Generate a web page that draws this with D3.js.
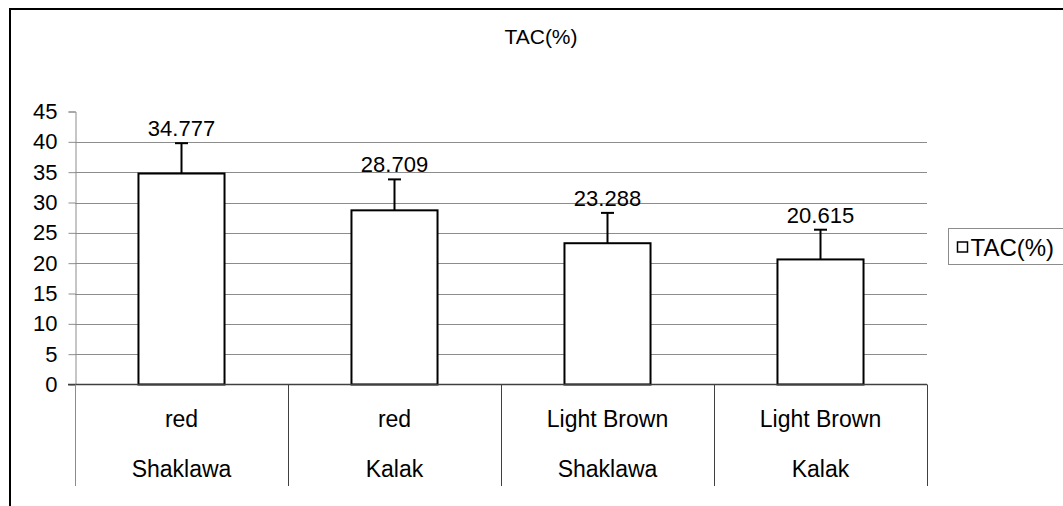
<!DOCTYPE html>
<html>
<head>
<meta charset="utf-8">
<script src="https://d3js.org/d3.v7.min.js"></script>
<style>
  body { margin: 0; background: #fff; }
  text { font-family: "Liberation Sans", Arial, sans-serif; fill: #000; }
</style>
</head>
<body>
<script>
// Data
var colours = ["red", "red", "Light Brown", "Light Brown"];
var places = ["Shaklawa", "Kalak", "Shaklawa", "Kalak"];
var tacValues = [34.777, 28.709, 23.288, 20.615];
var tacErrors = [5.0, 5.1, 5.0, 4.9];
var yTicks = [0, 5, 10, 15, 20, 25, 30, 35, 40, 45];
var chartTitle = "TAC(%)";
var legendLabel = "TAC(%)";

// Define SVG area dimensions
var svgWidth = 1063;
var svgHeight = 506;

// Plot area inside the chart
var plot = { left: 75, right: 927, top: 111.5, bottom: 384.5 };

var svg = d3.select("body")
  .append("svg")
  .attr("width", svgWidth)
  .attr("height", svgHeight);

// Outer chart border (runs off the right and bottom edge)
svg.append("rect")
  .attr("x", 10)
  .attr("y", 9)
  .attr("width", 1100)
  .attr("height", 600)
  .attr("fill", "#fff")
  .attr("stroke", "#000")
  .attr("stroke-width", 2);

// Scales
var xScale = d3.scaleBand()
  .domain(d3.range(tacValues.length))
  .range([plot.left, plot.right])
  .padding(0);

var yScale = d3.scaleLinear()
  .domain([0, 45])
  .range([plot.bottom, plot.top]);

var barWidth = xScale.bandwidth() * 0.404;

// Gridlines
svg.append("g")
  .selectAll("line")
  .data(yTicks.filter(function(d) { return d > 0 && d < 45; }))
  .enter()
  .append("line")
  .attr("x1", plot.left)
  .attr("x2", plot.right)
  .attr("y1", function(d) { return Math.round(yScale(d)) + 0.5; })
  .attr("y2", function(d) { return Math.round(yScale(d)) + 0.5; })
  .attr("stroke", "#8c8c8c")
  .attr("stroke-width", 1);

// Y axis
var yAxis = d3.axisLeft(yScale)
  .tickValues(yTicks)
  .tickSize(7)
  .tickPadding(11)
  .tickFormat(d3.format("d"));

var yAxisG = svg.append("g")
  .attr("transform", "translate(" + (plot.left + 0.5) + ",0)")
  .call(yAxis);

yAxisG.select(".domain").attr("stroke", "#8c8c8c");
yAxisG.selectAll(".tick line").attr("stroke", "#8c8c8c");
yAxisG.selectAll(".tick text")
  .style("font-size", "22px")
  .attr("font-family", null);

// Bars
svg.append("g")
  .selectAll("rect")
  .data(tacValues)
  .enter()
  .append("rect")
  .attr("x", function(d, i) { return xScale(i) + (xScale.bandwidth() - barWidth) / 2; })
  .attr("y", function(d) { return yScale(d); })
  .attr("width", barWidth)
  .attr("height", function(d) { return yScale(0) - yScale(d); })
  .attr("fill", "#fff")
  .attr("stroke", "#000")
  .attr("stroke-width", 2);

// Error bars (upper only)
var errG = svg.append("g")
  .attr("stroke", "#000")
  .attr("stroke-width", 2);

errG.selectAll(".stem")
  .data(tacValues)
  .enter()
  .append("line")
  .attr("class", "stem")
  .attr("x1", function(d, i) { return xScale(i) + xScale.bandwidth() / 2; })
  .attr("x2", function(d, i) { return xScale(i) + xScale.bandwidth() / 2; })
  .attr("y1", function(d) { return yScale(d); })
  .attr("y2", function(d, i) { return yScale(d + tacErrors[i]); });

errG.selectAll(".cap")
  .data(tacValues)
  .enter()
  .append("line")
  .attr("class", "cap")
  .attr("x1", function(d, i) { return xScale(i) + xScale.bandwidth() / 2 - 6.5; })
  .attr("x2", function(d, i) { return xScale(i) + xScale.bandwidth() / 2 + 6.5; })
  .attr("y1", function(d, i) { return yScale(d + tacErrors[i]); })
  .attr("y2", function(d, i) { return yScale(d + tacErrors[i]); });

// Value labels above the error bars
svg.append("g")
  .selectAll("text")
  .data(tacValues)
  .enter()
  .append("text")
  .attr("x", function(d, i) { return xScale(i) + xScale.bandwidth() / 2; })
  .attr("y", function(d, i) { return yScale(d + tacErrors[i]) - 7; })
  .attr("text-anchor", "middle")
  .style("font-size", "22px")
  .text(function(d) { return d3.format(".3f")(d); });

// Zero line
svg.append("line")
  .attr("x1", plot.left - 7)
  .attr("x2", plot.right)
  .attr("y1", plot.bottom)
  .attr("y2", plot.bottom)
  .attr("stroke", "#404040")
  .attr("stroke-width", 1.5);

// Category separators under the axis
svg.append("g")
  .selectAll("line")
  .data(d3.range(tacValues.length + 1))
  .enter()
  .append("line")
  .attr("x1", function(d) { return plot.left + d * xScale.step() + 0.5; })
  .attr("x2", function(d) { return plot.left + d * xScale.step() + 0.5; })
  .attr("y1", plot.bottom)
  .attr("y2", 486)
  .attr("stroke", function(d) { return d === 0 ? "#8c8c8c" : "#404040"; })
  .attr("stroke-width", 1);

// Two rows of category labels
var labelG = svg.append("g")
  .attr("text-anchor", "middle")
  .style("font-size", "23px");

labelG.selectAll(".row1")
  .data(colours)
  .enter()
  .append("text")
  .attr("x", function(d, i) { return xScale(i) + xScale.bandwidth() / 2; })
  .attr("y", 427)
  .text(function(d) { return d; });

labelG.selectAll(".row2")
  .data(places)
  .enter()
  .append("text")
  .attr("x", function(d, i) { return xScale(i) + xScale.bandwidth() / 2; })
  .attr("y", 477)
  .text(function(d) { return d; });

// Title
svg.append("text")
  .attr("x", 541)
  .attr("y", 44)
  .attr("text-anchor", "middle")
  .style("font-size", "21px")
  .text(chartTitle);

// Legend
var legend = svg.append("g")
  .attr("transform", "translate(948.5,228.5)");

legend.append("rect")
  .attr("width", 140)
  .attr("height", 36)
  .attr("fill", "#fff")
  .attr("stroke", "#8c8c8c")
  .attr("stroke-width", 1);

legend.append("rect")
  .attr("x", 9)
  .attr("y", 13.5)
  .attr("width", 10)
  .attr("height", 10)
  .attr("fill", "#fff")
  .attr("stroke", "#000")
  .attr("stroke-width", 1.5);

legend.append("text")
  .attr("x", 22)
  .attr("y", 27)
  .style("font-size", "24px")
  .text(legendLabel);
</script>
</body>
</html>
